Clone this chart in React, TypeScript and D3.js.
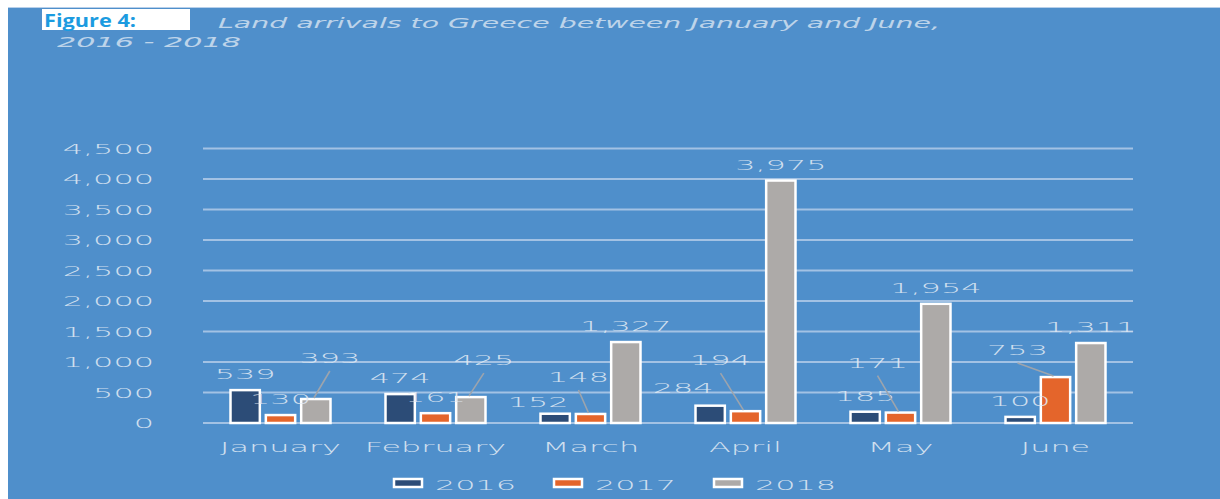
import React from "react";
import * as d3 from "d3";

const months = ["January", "February", "March", "April", "May", "June"];
const seriesNames = ["2016", "2017", "2018"];
const values2016 = [539, 474, 152, 284, 185, 100];
const values2017 = [130, 161, 148, 194, 171, 753];
const values2018 = [393, 425, 1327, 3975, 1954, 1311];
const yTickValues = [0, 500, 1000, 1500, 2000, 2500, 3000, 3500, 4000, 4500];
const titleLine1 = "Land arrivals to Greece between January and June,";
const titleLine2 = "2016 - 2018";
const figureLabel = "Figure 4:";

// label placement tweaks (series index, month index) -> pixel offsets, leader line
const labelTweaks: Record<string, { dx: number; dy: number; leader?: boolean }> = {
  "2-0": { dx: 14, dy: -25, leader: true },
  "2-1": { dx: 13, dy: -21, leader: true },
  "0-2": { dx: -17, dy: 4 },
  "1-2": { dx: -12, dy: -21, leader: true },
  "0-3": { dx: -27, dy: -2 },
  "1-3": { dx: -25, dy: -35, leader: true },
  "1-4": { dx: -23, dy: -34, leader: true },
  "1-5": { dx: -38, dy: -11, leader: true },
};

const COLORS = ["#2c4c77", "#e4652b", "#adaaa8"];
const BG = "#4f8fcb";
const GRID = "#a3c2e4";
const TXT = "#e2ebf5";
const FONT = "'DejaVu Sans', sans-serif";
const SX = 2.28;

function SText(props: {
  x: number;
  y: number;
  anchor?: string;
  size?: number;
  fill?: string;
  children: React.ReactNode;
}) {
  const { x, y, anchor = "middle", size = 14, fill = TXT, children } = props;
  return (
    <text
      transform={`translate(${x},${y}) scale(${SX},1)`}
      textAnchor={anchor}
      fontFamily={FONT}
      fontWeight={200}
      fontSize={size}
      fill={fill}
      opacity={0.88}
    >
      {children}
    </text>
  );
}

export default function App() {
  const W = 1220;
  const H = 499;
  const plotL = 203;
  const plotR = 1133;
  const allSeries = [values2016, values2017, values2018];

  const y = d3.scaleLinear().domain([0, 4500]).range([423, 148.5]);
  const x0 = d3.scaleBand<string>().domain(months).range([plotL, plotR]).padding(0);
  const groupW = 106;
  const x1 = d3
    .scaleBand<string>()
    .domain(seriesNames)
    .range([0, groupW])
    .paddingInner(0.17)
    .paddingOuter(0.085);
  const fmt = d3.format(",");

  const barX = (si: number, mi: number) =>
    (x0(months[mi]) as number) + (x0.bandwidth() - groupW) / 2 + (x1(seriesNames[si]) as number);
  const bw = x1.bandwidth();

  const legendX = d3.scaleLinear().domain([0, 1]).range([393, 553]);

  return (
    <svg
      width={W}
      height={H}
      style={{ position: "absolute", left: 0, top: 0, background: "#fff" }}
    >
      <rect x={8} y={7} width={W - 8} height={H - 7} fill={BG} />
      <line x1={8} x2={W} y1={7.5} y2={7.5} stroke="#b8d0ea" strokeWidth={1} />

      {/* title */}
      <rect x={42} y={9} width={148} height={21} fill="#ffffff" />
      <text
        x={44}
        y={27}
        fontFamily="'Open Sans', sans-serif"
        fontWeight={700}
        fontSize={17}
        fill="#1c9be0"
        textLength={92}
        lengthAdjust="spacingAndGlyphs"
      >
        {figureLabel}
      </text>
      <text
        x={218}
        y={28}
        fontFamily={FONT}
        fontStyle="italic"
        fontWeight={200}
        fontSize={13.5}
        fill={TXT}
        opacity={0.75}
        textLength={722}
        lengthAdjust="spacingAndGlyphs"
      >
        {titleLine1}
      </text>
      <text
        x={57}
        y={47}
        fontFamily={FONT}
        fontStyle="italic"
        fontWeight={200}
        fontSize={13.5}
        fill={TXT}
        opacity={0.75}
        textLength={184}
        lengthAdjust="spacingAndGlyphs"
      >
        {titleLine2}
      </text>

      {/* grid + y labels */}
      {yTickValues.map((t) => (
        <g key={t}>
          <line x1={plotL} x2={plotR} y1={y(t)} y2={y(t)} stroke={GRID} strokeWidth={2} />
          <SText x={154} y={y(t) + 5} anchor="end">
            {fmt(t)}
          </SText>
        </g>
      ))}

      {/* bars */}
      {allSeries.map((vals, si) =>
        vals.map((v, mi) => (
          <rect
            key={`b${si}-${mi}`}
            x={barX(si, mi)}
            y={y(v)}
            width={bw}
            height={y(0) - y(v)}
            fill={COLORS[si]}
            stroke="#ffffff"
            strokeWidth={2.5}
          />
        ))
      )}

      {/* leader lines + value labels */}
      {allSeries.map((vals, si) =>
        vals.map((v, mi) => {
          const cx = barX(si, mi) + bw / 2;
          const top = y(v);
          const tw = labelTweaks[`${si}-${mi}`] || { dx: 0, dy: 0 };
          const lx = cx + tw.dx;
          const ly = top - 11 + tw.dy;
          return (
            <g key={`l${si}-${mi}`}>
              {tw.leader && (
                <line
                  x1={lx}
                  y1={ly + 8}
                  x2={cx - 2}
                  y2={top - 1}
                  stroke="#9da4ad"
                  strokeWidth={1.6}
                />
              )}
              <SText x={lx} y={ly}>
                {fmt(v)}
              </SText>
            </g>
          );
        })
      )}

      {/* x labels */}
      {months.map((m) => (
        <SText key={m} x={(x0(m) as number) + x0.bandwidth() / 2} y={452}>
          {m}
        </SText>
      ))}

      {/* legend */}
      {seriesNames.map((s, i) => {
        const lx = legendX(i);
        return (
          <g key={s}>
            <rect
              x={lx + 1}
              y={479}
              width={28}
              height={8}
              fill={COLORS[i]}
              stroke="#ffffff"
              strokeWidth={2.5}
            />
            <SText x={lx + 42} y={490} anchor="start">
              {s}
            </SText>
          </g>
        );
      })}
    </svg>
  );
}
